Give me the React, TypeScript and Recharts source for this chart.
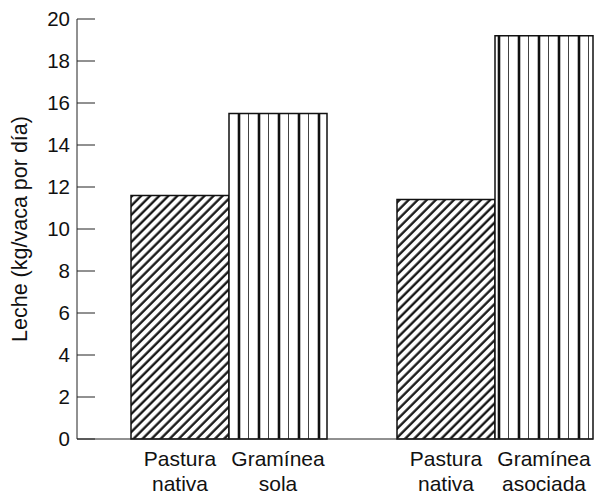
import { BarChart, Bar, XAxis, YAxis, LabelList } from 'recharts';

const groups = ['Grupo 1', 'Grupo 2'];
const pasturaValues = [11.6, 11.4];
const gramineaValues = [15.5, 19.2];
const pasturaLabels = ['Pastura nativa', 'Pastura nativa'];
const gramineaLabels = ['Gramínea sola', 'Gramínea asociada'];
const yTicks = [0, 2, 4, 6, 8, 10, 12, 14, 16, 18, 20];

const data = groups.map((g, i) => ({
  group: g,
  pastura: pasturaValues[i],
  graminea: gramineaValues[i],
  pasturaLabel: pasturaLabels[i],
  gramineaLabel: gramineaLabels[i],
}));

const FONT = '"Liberation Sans", Arial, sans-serif';

function BottomLabel(props: any) {
  const { x, y, width, height, value } = props;
  const cx = x + width / 2;
  const base = y + height;
  const words = String(value).split(' ');
  return (
    <text x={cx} y={base + 27} textAnchor="middle" fontSize={21} fontFamily={FONT} fill="#111">
      {words.map((w, i) => (
        <tspan key={i} x={cx} dy={i === 0 ? 0 : 25}>{w}</tspan>
      ))}
    </text>
  );
}

function YTitle(props: any) {
  const { viewBox } = props;
  const cy = viewBox.y + viewBox.height / 2;
  return (
    <text
      x={20}
      y={cy}
      transform={`rotate(-90, 20, ${cy})`}
      textAnchor="middle"
      dominantBaseline="central"
      fontSize={21.5}
      fontFamily={FONT}
      fill="#111"
    >
      Leche (kg/vaca por día)
    </text>
  );
}

export default function App() {
  return (
    <div style={{ position: 'absolute', left: 0, top: 0, background: '#fff' }}>
      <BarChart
        width={600}
        height={494}
        data={data}
        margin={{ top: 19, right: 7, bottom: 0, left: 0 }}
        barCategoryGap={34}
        barGap={0}
        maxBarSize={98}
      >
        <defs>
          <pattern id="hatch" patternUnits="userSpaceOnUse" width="6.4" height="6.4" patternTransform="rotate(45)">
            <rect width="6.4" height="6.4" fill="#fff" />
            <line x1="1.5" y1="0" x2="1.5" y2="6.4" stroke="#111" strokeWidth="2.3" />
          </pattern>
          <pattern id="vlines" patternUnits="userSpaceOnUse" x="229" width="20" height="10">
            <rect width="20" height="10" fill="#fff" />
            <line x1="10" y1="0" x2="10" y2="10" stroke="#111" strokeWidth="2.6" />
            <line x1="20" y1="0" x2="20" y2="10" stroke="#111" strokeWidth="1.6" />
          </pattern>
        </defs>
        <XAxis
          dataKey="group"
          height={55}
          tick={false}
          tickLine={false}
          axisLine={{ stroke: '#222', strokeWidth: 1 }}
          padding={{ left: 19, right: -35 }}
        />
        <YAxis
          width={77}
          domain={[0, 20]}
          ticks={yTicks}
          interval={0}
          tickSize={-18}
          tickMargin={25}
          tick={{ fontSize: 20.5, fontFamily: FONT, fill: '#111' }}
          tickLine={{ stroke: '#222', strokeWidth: 1 }}
          axisLine={{ stroke: '#222', strokeWidth: 1 }}
          label={<YTitle />}
        />
        <Bar dataKey="pastura" fill="url(#hatch)" stroke="#111" strokeWidth={1.5} isAnimationActive={false}>
          <LabelList dataKey="pasturaLabel" content={<BottomLabel />} />
        </Bar>
        <Bar dataKey="graminea" fill="url(#vlines)" stroke="#111" strokeWidth={1.5} isAnimationActive={false}>
          <LabelList dataKey="gramineaLabel" content={<BottomLabel />} />
        </Bar>
      </BarChart>
    </div>
  );
}
